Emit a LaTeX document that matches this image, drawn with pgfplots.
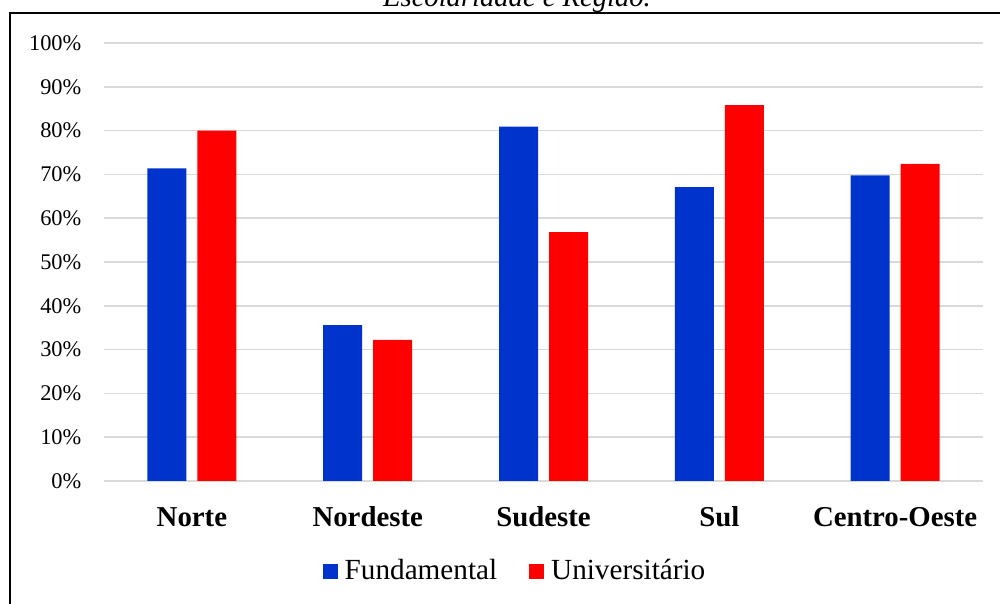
\documentclass[border=0pt]{standalone}
\usepackage{pgfplots}
\pgfplotsset{compat=1.18}
\usepackage{fontspec}
\setmainfont{Liberation Serif}
\definecolor{fundblue}{RGB}{0,51,204}
\definecolor{univred}{RGB}{255,0,0}
\definecolor{gridgray}{RGB}{217,217,217}

\begin{document}
\begin{tikzpicture}
\useasboundingbox (0,0) rectangle (500pt,302pt);
\clip (0,0) rectangle (500pt,302pt);
% caption line above the framed chart
\node[anchor=base, inner sep=0pt, font=\fontsize{14.3}{17}\selectfont\itshape] at (258.5pt,298.5pt) {Escolaridade e Região.};
% chart frame
\draw[line width=1pt] (4.75pt,-10pt) -- (4.75pt,295.5pt) -- (510pt,295.5pt);
\begin{axis}[
  at={(52pt,61.5pt)}, anchor=south west,
  scale only axis, width=439.5pt, height=219pt,
  xmin=-0.5, xmax=4.5, ymin=0, ymax=100,
  ybar=5.5pt, bar width=19.5pt,
  axis line style={draw=none},
  tick style={draw=none},
  xtick={0,1,2,3,4},
  xticklabels={Norte,Nordeste,Sudeste,Sul,Centro-Oeste},
  xticklabel style={anchor=base, yshift=-18.5pt, font=\fontsize{14.4}{17}\selectfont\bfseries},
  ytick={0,10,...,100},
  yticklabel={\pgfmathprintnumber{\tick}\%},
  yticklabel style={font=\fontsize{11.2}{13}\selectfont, xshift=-7.8pt},
  /pgf/number format/assume math mode=true,
  ymajorgrids, grid style={gridgray, line width=0.75pt},
  legend style={at={(0.4687,-0.2055)}, anchor=center, draw=none,
    legend columns=2, font=\fontsize{14.6}{17}\selectfont,
    /tikz/every odd column/.append style={column sep=1.5pt},
    /tikz/every even column/.append style={column sep=14pt}},
  legend image code/.code={\fill[#1] (0pt,-3.75pt) rectangle (7.5pt,3.75pt);},
]
\addplot[fill=fundblue, draw=none] coordinates {(0,71.4) (1,35.6) (2,80.9) (3,67.1) (4,69.8)};
\addplot[fill=univred, draw=none] coordinates {(0,80.0) (1,32.2) (2,56.8) (3,85.8) (4,72.4)};
\legend{Fundamental, Universitário}
\end{axis}
\end{tikzpicture}
\end{document}
